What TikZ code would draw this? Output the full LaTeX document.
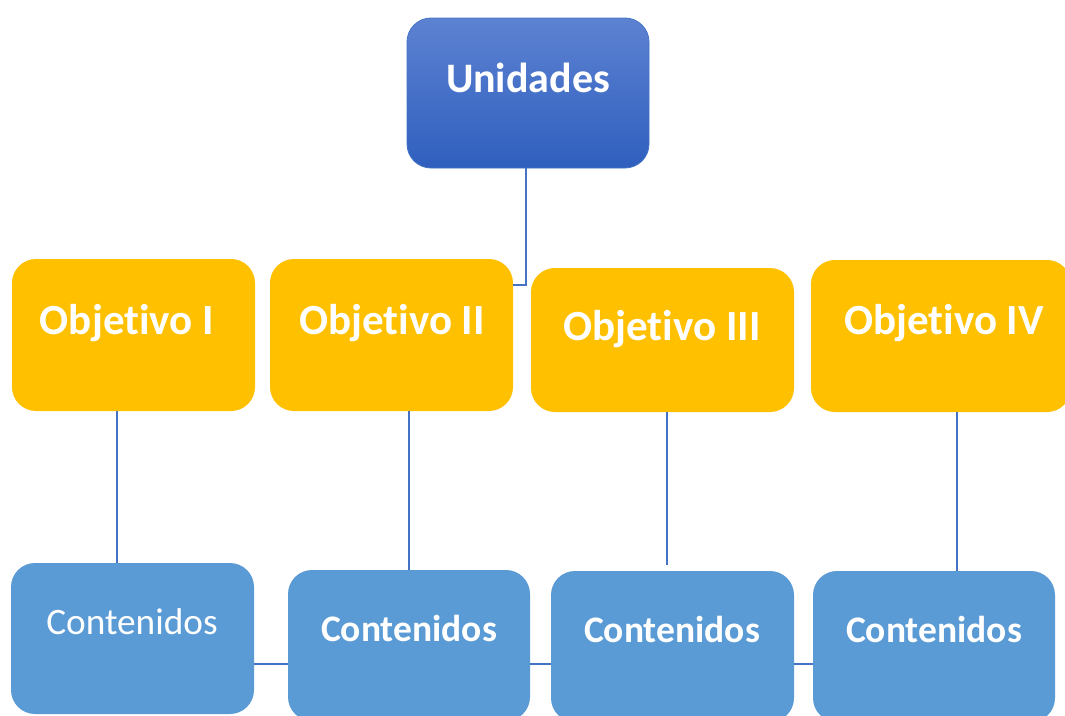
\documentclass[tikz,border=0pt]{standalone}
\usepackage{fontspec}
\setmainfont[Ligatures=NoCommon]{Carlito}
\definecolor{orangebox}{HTML}{FFC000}
\definecolor{bluebox}{HTML}{5B9BD5}
\definecolor{lineblue}{HTML}{4472C4}
\definecolor{utop}{HTML}{5D82D2}
\definecolor{ubot}{HTML}{2F5FBE}
\tikzset{
  box/.style={draw=none, rounded corners=24pt, inner sep=0pt, anchor=center},
  obj/.style={box, fill=orangebox},
  cont/.style={box, fill=bluebox},
  big/.style={text=white, font=\fontsize{43}{47}\selectfont\bfseries, anchor=base, inner sep=0pt},
  uni/.style={text=white, font=\fontsize{42}{46}\selectfont\bfseries, anchor=base, inner sep=0pt},
  mid/.style={text=white, font=\fontsize{37.5}{41}\selectfont\bfseries, anchor=base, inner sep=0pt},
  midreg/.style={text=white, font=\fontsize{37.3}{41}\selectfont, anchor=base, inner sep=0pt},
  conn/.style={draw=lineblue, line width=2pt}
}
\begin{document}
\begin{tikzpicture}[x=1pt,y=-1pt]
\useasboundingbox (0,0) rectangle (1065,715);
\clip (0,0) rectangle (1065,715);
\fill[white] (0,0) rectangle (1065,715);
% top box
\node[box, draw=lineblue, line width=0.8pt, top color=utop, bottom color=ubot, minimum width=242pt, minimum height=150pt] (u) at (528,93) {};
\node[uni] (ut) at (528,92) {Unidades};
% objetivos
\node[obj, minimum width=243pt, minimum height=152pt] (o1) at (133.5,335) {};
\node[obj, minimum width=243pt, minimum height=152pt] (o2) at (391.5,335) {};
\node[obj, minimum width=263pt, minimum height=144pt] (o3) at (662.5,340) {};
\node[obj, minimum width=260pt, minimum height=152pt] (o4) at (941,336) {};
\node[big] (o1t) at (127,334) {Objetivo I};
\node[big] (o2t) at (392,334) {Objetivo II};
\node[big] (o3t) at (662,340) {Objetivo III};
\node[big] (o4t) at (944,334) {Objetivo IV};
% contenidos
\node[cont, minimum width=243pt, minimum height=151pt] (c1) at (132.5,638.5) {};
\node[cont, minimum width=242pt, minimum height=151pt] (c2) at (409,645.5) {};
\node[cont, minimum width=243pt, minimum height=151pt] (c3) at (672.5,646.5) {};
\node[cont, minimum width=242pt, minimum height=151pt] (c4) at (934,646.5) {};
\node[midreg] (c1t) at (132,634) {Contenidos};
\node[mid] (c2t) at (409,641) {Contenidos};
\node[mid] (c3t) at (672,642) {Contenidos};
\node[mid] (c4t) at (934,642) {Contenidos};
% coordinates
\coordinate (j) at (526,285);
\coordinate (h) at (0,664);
% connectors
\draw[conn] ([xshift=-2pt]u.south) -- ([xshift=-2pt]u.south |- j) -- (o2.east |- j);
\draw[conn] ([xshift=-16.5pt]o1.south) -- ([xshift=-16.5pt]o1.south |- c1.north);
\draw[conn] ([xshift=17.5pt]o2.south) -- ([xshift=17.5pt]o2.south |- c2.north);
\draw[conn] ([xshift=4.5pt]o3.south) -- ([xshift=4.5pt,yshift=6pt]o3.south |- c3.north);
\draw[conn] ([xshift=16pt]o4.south) -- ([xshift=16pt]o4.south |- c4.north);
\draw[conn] (c1.east |- h) -- (c2.west |- h);
\draw[conn] (c2.east |- h) -- (c3.west |- h);
\draw[conn] (c3.east |- h) -- (c4.west |- h);
\end{tikzpicture}
\end{document}
